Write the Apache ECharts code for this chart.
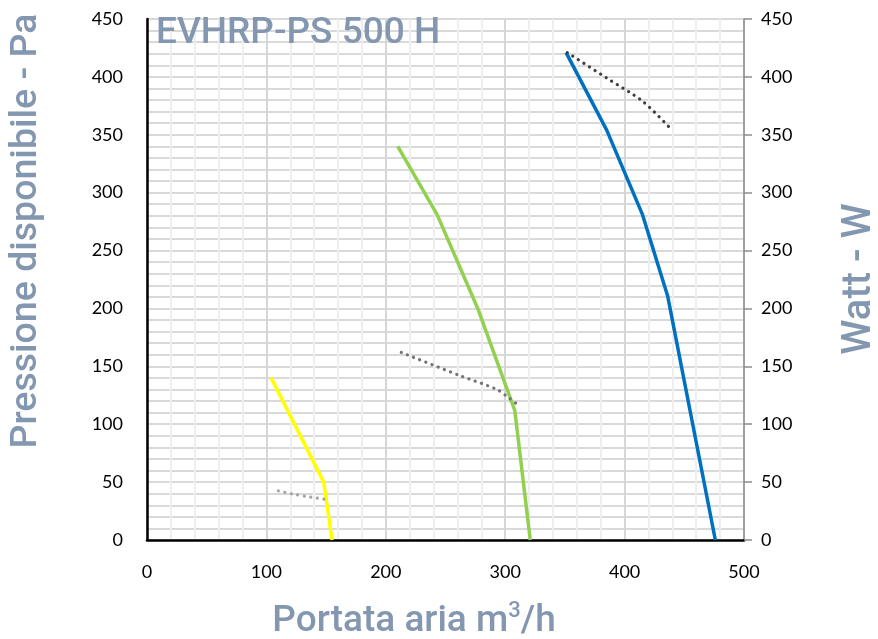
<!DOCTYPE html>
<html>
<head>
<meta charset="utf-8">
<script src="https://cdn.jsdelivr.net/npm/echarts@6/dist/echarts.min.js"></script>
<style>html,body{margin:0;padding:0;background:#fff}#c{width:878px;height:639px}</style>
</head>
<body>
<div id="c"></div>
<script>
// Pressure curves (x: m3/h, y: Pa)
const blueCurve   = [[351, 421], [385, 354], [415, 281], [436, 211], [476, 0]];
const greenCurve  = [[210, 340], [243, 281], [277, 200], [308, 112], [321, 0]];
const yellowCurve = [[104, 140], [148, 50], [155, 0]];
// Power curves (x: m3/h, y: W on right axis)
const bluePower   = [[352, 421], [385, 399], [415, 379], [437, 357]];
const greenPower  = [[213, 162], [262, 142], [293, 130], [304, 122], [309, 118]];
const yellowPower = [[110, 42.5], [123, 39.5], [137, 37], [150, 35]];

const titleText = 'EVHRP-PS 500 H';
const xNameMain = 'Portata aria m';
const xNameSup = '3';
const xNameEnd = '/h';
const yLeftName = 'Pressione disponibile - Pa';
const yRightName = 'Watt - W';

const nameColor = '#8497b0';
const tickFont = 'Lato, "Open Sans", sans-serif';

const chart = echarts.init(document.getElementById('c'), null, {renderer: 'canvas'});

function solid(data, color) {
  return {type: 'line', data: data, yAxisIndex: 0, showSymbol: false, symbol: 'none',
    lineStyle: {color: color, width: 3.5}, z: 3, animation: false};
}
function dotted(data, color) {
  return {type: 'line', data: data, yAxisIndex: 1, showSymbol: false, symbol: 'none', smooth: 0.3,
    lineStyle: {color: color, width: 3.2, type: [0.1, 6.5], cap: 'round'}, z: 4, animation: false};
}

chart.setOption({
  animation: false,
  grid: {left: 147, right: 134, top: 19, bottom: 99},
  xAxis: {
    type: 'value', min: 0, max: 500, interval: 100,
    axisLine: {show: true, lineStyle: {color: '#000', width: 2.5}},
    axisTick: {show: false},
    axisLabel: {color: '#000', fontSize: 18, fontFamily: tickFont, margin: 23},
    splitLine: {show: true, lineStyle: {color: '#d6d6d6', width: 2}},
    minorTick: {show: false, splitNumber: 5},
    minorSplitLine: {show: true, lineStyle: {color: '#eeeeee', width: 2}}
  },
  yAxis: [{
    type: 'value', min: 0, max: 450, interval: 50, position: 'left',
    axisLine: {show: true, lineStyle: {color: '#000', width: 2.5}},
    axisTick: {show: false},
    axisLabel: {color: '#000', fontSize: 18, fontFamily: tickFont, margin: 24},
    splitLine: {show: true, lineStyle: {color: '#d9d9d9', width: 2}},
    minorTick: {show: false, splitNumber: 5},
    minorSplitLine: {show: true, lineStyle: {color: '#d9d9d9', width: 2}}
  }, {
    type: 'value', min: 0, max: 450, interval: 50, position: 'right',
    axisLine: {show: true, lineStyle: {color: '#8c8c8c', width: 1.5}},
    axisTick: {show: true, length: 8, inside: false, lineStyle: {color: '#8c8c8c', width: 1.5}},
    axisLabel: {color: '#000', fontSize: 18, fontFamily: tickFont, margin: 17},
    splitLine: {show: false}
  }],
  graphic: [
    {type: 'text', left: 156, top: 15, z: 10,
      style: {text: titleText, fill: nameColor, font: '500 37px Roboto, sans-serif'}},
    {type: 'text', x: 27, y: 231, rotation: Math.PI / 2, z: 10,
      style: {text: yLeftName, fill: nameColor, font: '500 37.5px Roboto, sans-serif', textAlign: 'center', textVerticalAlign: 'middle'}},
    {type: 'text', x: 860, y: 279, rotation: Math.PI / 2, z: 10,
      style: {text: yRightName, fill: nameColor, font: '500 40px Roboto, sans-serif', textAlign: 'center', textVerticalAlign: 'middle'}},
    {type: 'text', x: 414, y: 620, z: 10,
      style: {
        text: '{a|' + xNameMain + '}{s|' + xNameSup + '}{a|' + xNameEnd + '}',
        textAlign: 'center', textVerticalAlign: 'middle',
        rich: {
          a: {fill: nameColor, font: '500 37px Roboto, sans-serif', verticalAlign: 'bottom', lineHeight: 40},
          s: {fill: nameColor, font: '500 22px Roboto, sans-serif', verticalAlign: 'top', lineHeight: 40, padding: [0, 0, 14, 0]}
        }
      }}
  ],
  series: [
    solid(yellowCurve, '#ffff00'),
    solid(greenCurve, '#92d050'),
    solid(blueCurve, '#0070c0'),
    dotted(yellowPower, '#a6a6a6'),
    dotted(greenPower, '#737373'),
    dotted(bluePower, '#404040')
  ]
});
</script>
</body>
</html>
